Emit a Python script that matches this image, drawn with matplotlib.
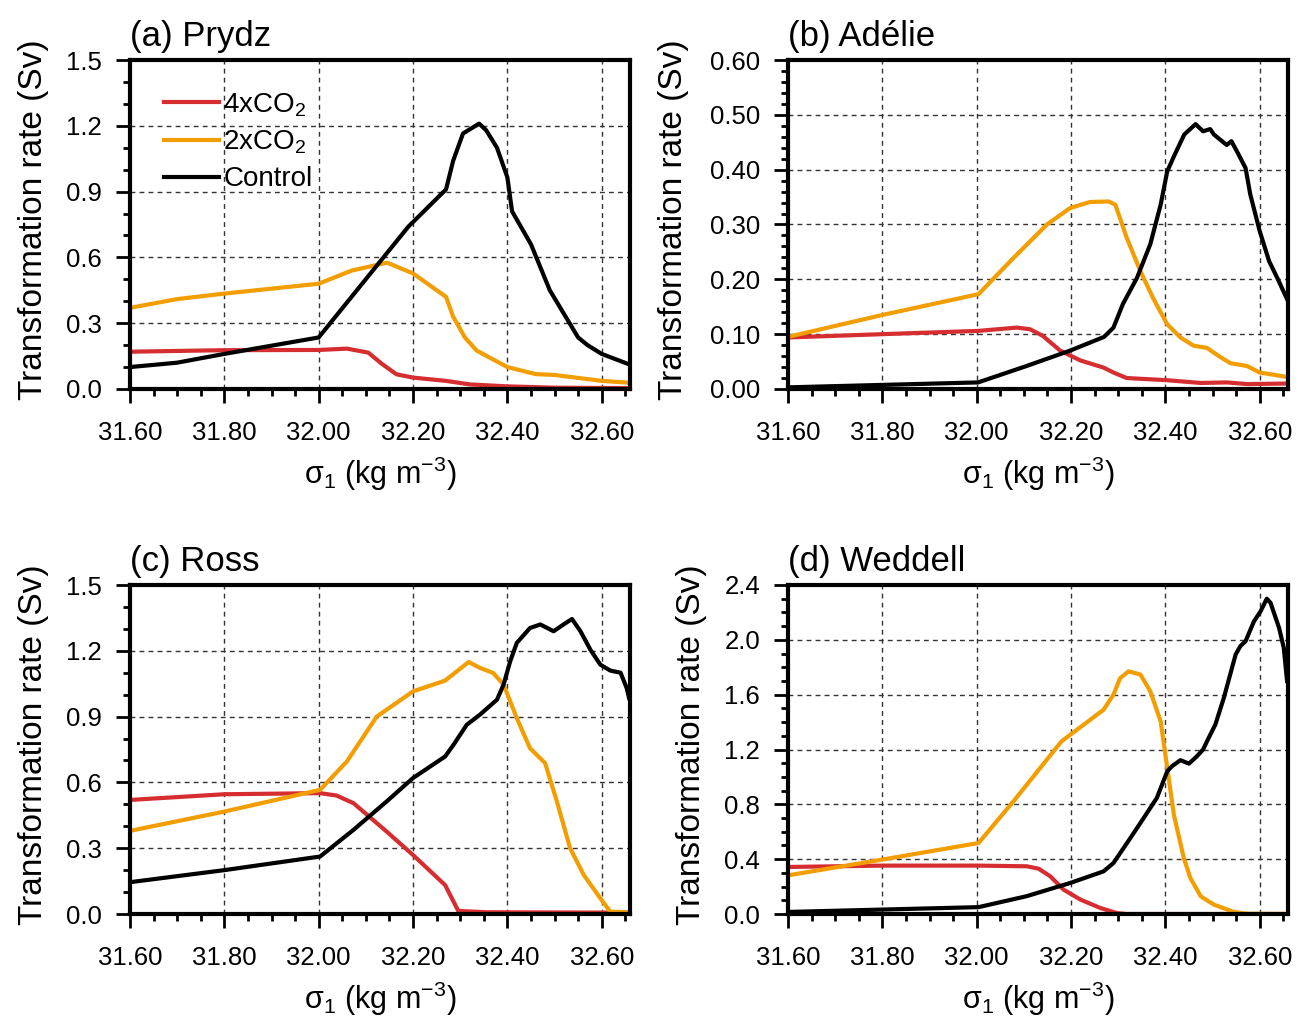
import numpy as np
import matplotlib
matplotlib.use("Agg")
import matplotlib.pyplot as plt
from matplotlib.ticker import MultipleLocator, FormatStrFormatter

plt.rcParams['font.family'] = ['Liberation Sans', 'DejaVu Sans']

RED = '#d62d30'
ORANGE = '#f29d00'
BLACK = '#000000'

# ---- (a) Prydz ----
a_ctl_x = [31.60, 31.70, 31.80, 32.00, 32.19, 32.27, 32.285, 32.306, 32.325, 32.34, 32.355, 32.378, 32.40,
           32.41, 32.45, 32.49, 32.55, 32.57, 32.60, 32.655]
a_ctl_y = [0.10, 0.12, 0.16, 0.235, 0.74, 0.91, 1.04, 1.165, 1.19, 1.21, 1.18, 1.10, 0.965,
           0.81, 0.66, 0.45, 0.235, 0.20, 0.16, 0.115]
a_2x_x = [31.60, 31.70, 31.80, 32.00, 32.07, 32.145, 32.20, 32.27, 32.285, 32.31, 32.335,
          32.40, 32.46, 32.50, 32.60, 32.655]
a_2x_y = [0.37, 0.41, 0.435, 0.48, 0.54, 0.576, 0.527, 0.42, 0.33, 0.235, 0.175,
          0.10, 0.068, 0.064, 0.037, 0.029]
a_4x_x = [31.60, 31.80, 32.00, 32.06, 32.105, 32.135, 32.165, 32.20, 32.27, 32.32, 32.40,
          32.50, 32.655]
a_4x_y = [0.17, 0.177, 0.178, 0.184, 0.166, 0.113, 0.067, 0.052, 0.037, 0.021, 0.012,
          0.006, 0.004]

# ---- (b) Adelie ----
b_ctl_x = [31.60, 32.003, 32.106, 32.198, 32.27, 32.29, 32.31, 32.34, 32.368, 32.39, 32.404,
           32.418, 32.44, 32.464, 32.48, 32.495, 32.503, 32.53, 32.54, 32.552, 32.57, 32.58,
           32.60, 32.62, 32.637, 32.658]
b_ctl_y = [0.003, 0.012, 0.042, 0.07, 0.095, 0.112, 0.155, 0.203, 0.264, 0.336, 0.397,
           0.424, 0.464, 0.483, 0.47, 0.474, 0.464, 0.445, 0.452, 0.433, 0.403, 0.355,
           0.288, 0.233, 0.203, 0.164]
b_2x_x = [31.60, 31.80, 32.004, 32.078, 32.149, 32.198, 32.24, 32.28, 32.294, 32.318, 32.347,
          32.375, 32.404, 32.432, 32.46, 32.488, 32.517, 32.538, 32.573, 32.60, 32.658]
b_2x_y = [0.095, 0.135, 0.173, 0.239, 0.30, 0.33, 0.341, 0.342, 0.336, 0.276, 0.215,
          0.164, 0.118, 0.094, 0.079, 0.075, 0.058, 0.047, 0.042, 0.030, 0.022]
b_4x_x = [31.60, 31.80, 32.004, 32.085, 32.113, 32.14, 32.177, 32.22, 32.269, 32.29, 32.318,
          32.404, 32.475, 32.53, 32.573, 32.658]
b_4x_y = [0.094, 0.10, 0.106, 0.112, 0.109, 0.097, 0.07, 0.052, 0.039, 0.03, 0.02,
          0.016, 0.011, 0.012, 0.009, 0.01]

# ---- (c) Ross ----
c_ctl_x = [31.60, 31.80, 32.003, 32.074, 32.144, 32.20, 32.268, 32.286, 32.314, 32.342, 32.378,
           32.392, 32.406, 32.42, 32.448, 32.47, 32.498, 32.519, 32.537, 32.555, 32.576,
           32.597, 32.618, 32.64, 32.653, 32.658]
c_ctl_y = [0.145, 0.20, 0.262, 0.384, 0.513, 0.62, 0.718, 0.772, 0.863, 0.909, 0.977,
           1.046, 1.152, 1.236, 1.304, 1.32, 1.289, 1.32, 1.345, 1.289, 1.205,
           1.137, 1.11, 1.10, 1.03, 0.985]
c_2x_x = [31.60, 31.80, 32.003, 32.06, 32.123, 32.20, 32.268, 32.318, 32.342, 32.37, 32.392,
          32.42, 32.448, 32.48, 32.505, 32.533, 32.562, 32.597, 32.618, 32.658]
c_2x_y = [0.379, 0.467, 0.566, 0.696, 0.90, 1.015, 1.064, 1.149, 1.122, 1.099, 1.046,
          0.893, 0.756, 0.688, 0.513, 0.30, 0.178, 0.072, 0.011, 0.008]
c_4x_x = [31.60, 31.80, 32.003, 32.038, 32.074, 32.144, 32.20, 32.268, 32.286, 32.296, 32.356,
          32.658]
c_4x_y = [0.52, 0.546, 0.551, 0.54, 0.505, 0.376, 0.269, 0.132, 0.056, 0.014, 0.008,
          0.006]

# ---- (d) Weddell ----
d_ctl_x = [31.60, 32.004, 32.106, 32.198, 32.269, 32.29, 32.326, 32.354, 32.382, 32.393, 32.404,
           32.414, 32.432, 32.45, 32.467, 32.48, 32.489, 32.506, 32.524, 32.549, 32.559,
           32.57, 32.588, 32.602, 32.615, 32.623, 32.641, 32.651, 32.658]
d_ctl_y = [0.015, 0.05, 0.13, 0.226, 0.311, 0.372, 0.555, 0.70, 0.847, 0.944, 1.041,
           1.078, 1.122, 1.097, 1.151, 1.20, 1.265, 1.382, 1.577, 1.893, 1.954,
           1.99, 2.136, 2.209, 2.30, 2.27, 2.088, 1.942, 1.70]
d_2x_x = [31.60, 31.80, 32.004, 32.078, 32.18, 32.269, 32.29, 32.304, 32.322, 32.347, 32.368,
          32.39, 32.404, 32.418, 32.439, 32.453, 32.475, 32.503, 32.545, 32.573, 32.658]
d_2x_y = [0.282, 0.397, 0.518, 0.822, 1.26, 1.49, 1.60, 1.72, 1.77, 1.747, 1.625,
          1.406, 1.066, 0.725, 0.409, 0.263, 0.129, 0.068, 0.015, 0.002, 0.0]
d_4x_x = [31.60, 31.80, 32.004, 32.106, 32.131, 32.156, 32.184, 32.22, 32.262, 32.297, 32.318,
          32.658]
d_4x_y = [0.343, 0.353, 0.353, 0.348, 0.331, 0.275, 0.178, 0.105, 0.044, 0.007, 0.0,
          0.0]

panels = [
    ('(a) Prydz', (a_4x_x, a_4x_y), (a_2x_x, a_2x_y), (a_ctl_x, a_ctl_y), 1.5, 0.3, 0.1, '%.1f'),
    ('(b) Adélie', (b_4x_x, b_4x_y), (b_2x_x, b_2x_y), (b_ctl_x, b_ctl_y), 0.6, 0.1, 0.02, '%.2f'),
    ('(c) Ross', (c_4x_x, c_4x_y), (c_2x_x, c_2x_y), (c_ctl_x, c_ctl_y), 1.5, 0.3, 0.1, '%.1f'),
    ('(d) Weddell', (d_4x_x, d_4x_y), (d_2x_x, d_2x_y), (d_ctl_x, d_ctl_y), 2.4, 0.4, 0.1, '%.1f'),
]

fig = plt.figure(figsize=(13.04, 10.18), dpi=100)
W, H = 1304.0, 1018.0
boxes = [(130, 60), (788, 60), (130, 585), (788, 585)]
ylab_x = [-0.162, -0.198, -0.162, -0.162]

for (title, s4, s2, sc, ymax, ymaj, ymin, fmt), (left, top), ylx in zip(panels, boxes, ylab_x):
    ax = fig.add_axes([left / W, 1 - (top + 329) / H, 500 / W, 329 / H])
    l4, = ax.plot(s4[0], s4[1], color=RED, lw=3, label='4xCO$_\\mathregular{2}$')
    l2, = ax.plot(s2[0], s2[1], color=ORANGE, lw=3, label='2xCO$_\\mathregular{2}$')
    lc, = ax.plot(sc[0], sc[1], color=BLACK, lw=3, label='Control')
    ax.set_xlim(31.6, 32.66)
    ax.set_ylim(0, ymax)
    ax.xaxis.set_major_locator(MultipleLocator(0.2))
    ax.xaxis.set_minor_locator(MultipleLocator(0.05))
    ax.yaxis.set_major_locator(MultipleLocator(ymaj))
    ax.yaxis.set_minor_locator(MultipleLocator(ymin))
    ax.xaxis.set_major_formatter(FormatStrFormatter('%.2f'))
    ax.yaxis.set_major_formatter(FormatStrFormatter(fmt))
    ax.grid(True, which='major', color='#333333', ls=(0, (3.5, 3)), lw=1.0)
    ax.tick_params(which='both', direction='out', top=False, right=False, labelsize=18.5, width=2)
    ax.tick_params(which='major', length=10)
    ax.tick_params(which='minor', length=5)
    ax.tick_params(axis='x', which='major', pad=13)
    ax.tick_params(axis='y', which='major', pad=10)
    for sp in ax.spines.values():
        sp.set_linewidth(3)
    ax.set_title(title, loc='left', fontsize=25, pad=10)
    ax.set_ylabel('Transformation rate (Sv)', fontsize=24)
    ax.yaxis.set_label_coords(ylx, 0.515)
    ax.set_xlabel('σ$_\\mathregular{1}$ (kg m$^\\mathregular{-3}$)', fontsize=22)
    ax.xaxis.set_label_coords(0.5, -0.2)
    if title.startswith('(a)'):
        ax.legend(handles=[l4, l2, lc], loc='upper left', bbox_to_anchor=(0.045, 0.94),
                  frameon=False, fontsize=20, handlelength=2.0, handletextpad=0.15,
                  labelspacing=0.36, borderaxespad=0)

fig.savefig('out.png', dpi=100)
